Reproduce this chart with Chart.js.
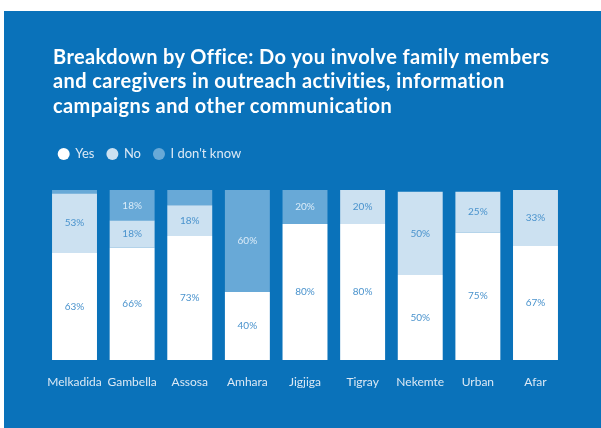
<!DOCTYPE html>
<html>
<head>
<meta charset="utf-8">
<script src="https://cdn.jsdelivr.net/npm/chart.js@4.4.0/dist/chart.umd.min.js"></script>
<style>
	html, body { margin: 0; padding: 0; background: #fff; }
	#panel { position: absolute; left: 4px; top: 11px; width: 597px; height: 417px; background: #0a72ba; }
	#title { position: absolute; left: 49px; top: 33px; margin: 0; color: #fff; font-family: Lato, sans-serif; font-weight: 700; font-size: 20px; line-height: 24.3px; letter-spacing: 0.4px; }
	canvas { position: absolute; left: 0; top: 0; }
</style>
</head>
<body>
<div id="panel">
	<canvas id="office-chart" width="597" height="417"></canvas>
	<h1 id="title">Breakdown by Office: Do you involve family members<br>and caregivers in outreach activities, information<br>campaigns and other communication</h1>
</div>
<script>
var categories = ['Melkadida', 'Gambella', 'Assosa', 'Amhara', 'Jigjiga', 'Tigray', 'Nekemte', 'Urban', 'Afar'];
var yesValues = [63, 66, 73, 40, 80, 80, 50, 75, 67];
var noValues = [35, 16, 18, 0, 0, 20, 49, 24, 33];
var dkValues = [2, 18, 9, 60, 20, 0, 0, 0, 0];
var yesLabels = ['63%', '66%', '73%', '40%', '80%', '80%', '50%', '75%', '67%'];
var noLabels = ['53%', '18%', '18%', '', '', '20%', '50%', '25%', '33%'];
var dkLabels = ['', '18%', '', '60%', '20%', '', '', '', ''];

var segmentLabels = [yesLabels, noLabels, dkLabels];
var labelColors = ['#4a93cd', '#4a93cd', '#dcecf8'];

// push the plot down below the legend
var legendGap = {
	id: 'legendGap',
	beforeInit: function(chart) {
		var fit = chart.legend.fit;
		chart.legend.fit = function() {
			fit.call(this);
			this.height += 19.5;
		};
	}
};

var barText = {
	id: 'barText',
	afterDatasetsDraw: function(chart) {
		var ctx = chart.ctx;
		ctx.save();
		ctx.font = '10px Lato, sans-serif';
		ctx.textAlign = 'center';
		ctx.textBaseline = 'middle';
		for (var i = 0; i < chart.data.datasets.length; i++) {
			var meta = chart.getDatasetMeta(i);
			ctx.fillStyle = labelColors[i];
			meta.data.forEach(function(bar, j) {
				var txt = segmentLabels[i][j];
				if (!txt) return;
				var p = bar.getProps(['x', 'y', 'base'], true);
				ctx.fillText(txt, p.x, (p.y + p.base) / 2);
			});
		}
		ctx.restore();
	}
};

var ctx = document.getElementById('office-chart').getContext('2d');
var officeChart = new Chart(ctx, {
	type: 'bar',
	data: {
		labels: categories,
		datasets: [{
			label: 'Yes',
			data: yesValues,
			backgroundColor: '#ffffff'
		}, {
			label: 'No',
			data: noValues,
			backgroundColor: '#cce1f1'
		}, {
			label: "I don't know",
			data: dkValues,
			backgroundColor: '#68a9d7'
		}]
	},
	options: {
		responsive: false,
		animation: false,
		barPercentage: 0.78,
		categoryPercentage: 1,
		layout: {
			padding: {left: 41.7, right: 36.7, top: 123.5, bottom: 23.6}
		},
		plugins: {
			title: {display: false},
			tooltip: {enabled: false},
			legend: {
				position: 'top',
				align: 'start',
				labels: {
					usePointStyle: true,
					pointStyle: 'circle',
					boxWidth: 10,
					boxHeight: 8.5,
					padding: 13,
					color: '#dce9f5',
					font: {family: 'Lato, sans-serif', size: 13}
				}
			}
		},
		scales: {
			x: {
				stacked: true,
				grid: {display: false, drawTicks: false},
				border: {display: false},
				ticks: {
					color: '#dce9f5',
					padding: 15,
					autoSkip: false,
					maxRotation: 0,
					font: {family: 'Lato, sans-serif', size: 12}
				}
			},
			y: {
				stacked: true,
				display: false,
				min: 0,
				max: 100
			}
		}
	},
	plugins: [legendGap, barText]
});
</script>
</body>
</html>
